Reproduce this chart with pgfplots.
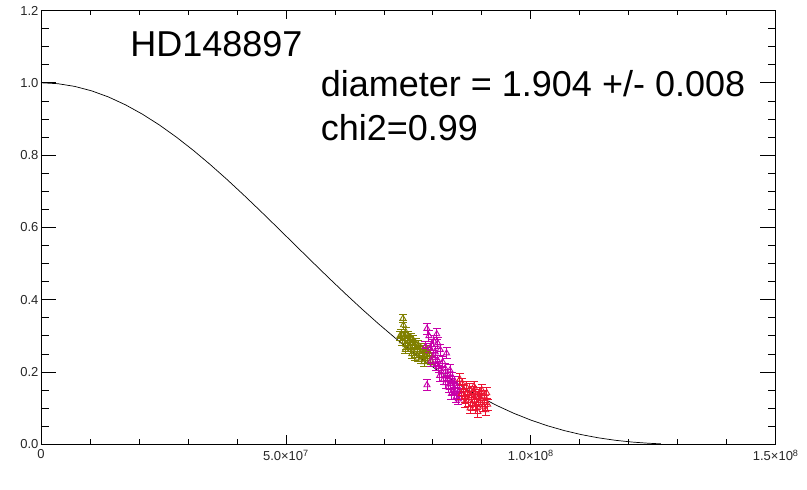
\documentclass[border=0pt]{standalone}
\usepackage{pgfplots}
\pgfplotsset{compat=1.18}
\usepackage{fontspec}
\setmainfont{Liberation Sans}
\definecolor{olivec}{RGB}{128,128,0}
\definecolor{magc}{RGB}{200,0,170}
\definecolor{redc}{RGB}{235,20,50}
\pgfplotstableread{
x y e
7.39e7 0.348 0.012
7.40e7 0.330 0.012
7.36e7 0.305 0.012
7.42e7 0.298 0.012
7.45e7 0.310 0.012
7.48e7 0.290 0.012
7.50e7 0.300 0.012
7.52e7 0.285 0.012
7.55e7 0.295 0.012
7.58e7 0.278 0.012
7.60e7 0.288 0.012
7.62e7 0.270 0.012
7.65e7 0.280 0.012
7.68e7 0.262 0.012
7.70e7 0.275 0.012
7.72e7 0.258 0.012
7.75e7 0.268 0.012
7.78e7 0.250 0.012
7.80e7 0.262 0.012
7.83e7 0.245 0.012
7.86e7 0.255 0.012
7.90e7 0.238 0.012
7.93e7 0.250 0.012
7.96e7 0.232 0.012
7.55e7 0.262 0.012
7.45e7 0.275 0.012
7.33e7 0.300 0.012
7.38e7 0.285 0.012
7.44e7 0.262 0.012
7.50e7 0.270 0.012
7.57e7 0.250 0.012
7.63e7 0.245 0.012
7.70e7 0.240 0.012
7.76e7 0.235 0.012
7.82e7 0.228 0.012
7.88e7 0.262 0.012
}\olivedata
\pgfplotstableread{
x y e
7.88e7 0.320 0.015
7.92e7 0.300 0.015
8.08e7 0.305 0.015
8.02e7 0.285 0.015
7.85e7 0.270 0.015
7.95e7 0.265 0.015
8.05e7 0.255 0.015
8.15e7 0.262 0.015
8.28e7 0.252 0.015
8.00e7 0.240 0.015
8.10e7 0.232 0.015
8.20e7 0.228 0.015
8.12e7 0.215 0.015
8.25e7 0.210 0.015
8.35e7 0.205 0.015
8.18e7 0.200 0.015
8.30e7 0.192 0.015
8.40e7 0.185 0.015
8.22e7 0.180 0.015
8.45e7 0.172 0.015
8.35e7 0.168 0.015
8.50e7 0.160 0.015
7.88e7 0.164 0.015
8.42e7 0.152 0.015
8.55e7 0.148 0.015
8.38e7 0.140 0.015
8.48e7 0.132 0.015
7.98e7 0.275 0.015
8.06e7 0.220 0.015
8.14e7 0.190 0.015
8.26e7 0.170 0.015
8.32e7 0.158 0.015
8.44e7 0.140 0.015
8.52e7 0.125 0.015
8.10e7 0.280 0.015
7.96e7 0.230 0.015
}\magdata
\pgfplotstableread{
x y e
8.55e7 0.180 0.015
8.60e7 0.168 0.015
8.62e7 0.150 0.015
8.68e7 0.160 0.015
8.70e7 0.140 0.015
8.75e7 0.152 0.015
8.78e7 0.130 0.015
8.82e7 0.145 0.015
8.85e7 0.122 0.015
8.88e7 0.138 0.015
8.90e7 0.112 0.015
8.95e7 0.142 0.015
8.98e7 0.125 0.015
9.05e7 0.135 0.015
9.10e7 0.142 0.015
9.02e7 0.105 0.015
9.08e7 0.095 0.015
8.92e7 0.090 0.015
8.72e7 0.120 0.015
8.65e7 0.132 0.015
8.80e7 0.110 0.015
9.12e7 0.110 0.015
8.58e7 0.140 0.015
8.66e7 0.118 0.015
8.76e7 0.100 0.015
8.86e7 0.100 0.015
8.94e7 0.130 0.015
9.00e7 0.150 0.015
8.84e7 0.160 0.015
9.06e7 0.120 0.015
}\reddata
\begin{document}
\begin{tikzpicture}
\path[use as bounding box] (0,0) rectangle (807pt,490pt);
\begin{axis}[
  at={(41pt,45.7pt)}, anchor=south west, scale only axis,
  width=734.7pt, height=433.8pt,
  xmin=0, xmax=1.5e8, ymin=0, ymax=1.2,
  xtick={0,5e7,1e8,1.5e8},
  xticklabels={0,5.0×10\textsuperscript{7},1.0×10\textsuperscript{8},1.5×10\textsuperscript{8}},
  minor x tick num=4, ytick=\empty,
  scaled x ticks=false,
  major tick length=9pt, minor tick length=5pt,
  tick style={black, line width=0.7pt},
  axis line style={line width=0.8pt},
  xticklabel style={font=\fontsize{13}{14}\selectfont, text=black!85, yshift=-2pt},
  clip=false,
]
\addplot[black, line width=0.7pt] coordinates {
(0,1) (3.448e6,0.9975) (6.897e6,0.9900) (1.0345e7,0.9777) (1.3794e7,0.9607)
(1.7242e7,0.9391) (2.0690e7,0.9133) (2.4139e7,0.8836) (2.7587e7,0.8503)
(3.1036e7,0.8138) (3.4484e7,0.7746) (3.7932e7,0.7331) (4.1381e7,0.6897)
(4.4829e7,0.6450) (4.8278e7,0.5994) (5.1726e7,0.5534) (5.5174e7,0.5075)
(5.8623e7,0.4620) (6.2071e7,0.4175) (6.5520e7,0.3742) (6.8968e7,0.3326)
(7.2416e7,0.2929) (7.5865e7,0.2555) (7.9313e7,0.2204) (8.2762e7,0.1879)
(8.6210e7,0.1581) (8.9658e7,0.1312) (9.3107e7,0.1070) (9.6555e7,0.0856)
(1.00004e8,0.0670) (1.03452e8,0.0511) (1.06900e8,0.0377) (1.10349e8,0.0267)
(1.13797e8,0.0179) (1.17246e8,0.0111) (1.20694e8,0.00616) (1.24142e8,0.00281)
(1.26556e8,0.0013)
};
\addplot[only marks, olivec, mark=triangle, mark size=3.5pt, mark options={line width=0.9pt},
  error bars/.cd, y dir=both, y explicit,
  error bar style={olivec, line width=0.9pt},
  error mark options={rotate=90, mark size=4pt, olivec, line width=0.9pt}]
  table[x=x, y=y, y error=e] {\olivedata};
\addplot[only marks, magc, mark=triangle, mark size=3.5pt, mark options={line width=0.9pt},
  error bars/.cd, y dir=both, y explicit,
  error bar style={magc, line width=0.9pt},
  error mark options={rotate=90, mark size=4pt, magc, line width=0.9pt}]
  table[x=x, y=y, y error=e] {\magdata};
\addplot[only marks, redc, mark=triangle, mark size=3.5pt, mark options={line width=0.9pt},
  error bars/.cd, y dir=both, y explicit,
  error bar style={redc, line width=0.9pt},
  error mark options={rotate=90, mark size=4pt, redc, line width=0.9pt}]
  table[x=x, y=y, y error=e] {\reddata};
\node[anchor=base west, inner sep=0pt, font=\fontsize{36}{36}\selectfont] at (axis cs:1.82e7,1.074) {HD148897};
\node[anchor=base west, inner sep=0pt, font=\fontsize{36}{36}\selectfont] at (axis cs:5.71e7,0.9615) {diameter = 1.904 +/- 0.008};
\node[anchor=base west, inner sep=0pt, font=\fontsize{36}{36}\selectfont] at (axis cs:5.71e7,0.839) {chi2=0.99};
\end{axis}
\begin{axis}[
  at={(41pt,45.7pt)}, anchor=south west, scale only axis,
  width=734.7pt, height=433.8pt,
  xmin=0, xmax=1.5e8, ymin=0, ymax=1.2,
  xtick=\empty,
  ytick={0,0.2,0.4,0.6,0.8,1.0,1.2},
  minor y tick num=3,
  major tick length=15.5pt, minor tick length=8pt,
  tick style={black, line width=0.7pt},
  axis line style={line width=0.8pt},
  yticklabel style={font=\fontsize{13}{14}\selectfont, text=black!85, xshift=1pt,
    /pgf/number format/.cd, fixed, fixed zerofill, precision=1, assume math mode=true},
]
\end{axis}
\end{tikzpicture}
\end{document}
